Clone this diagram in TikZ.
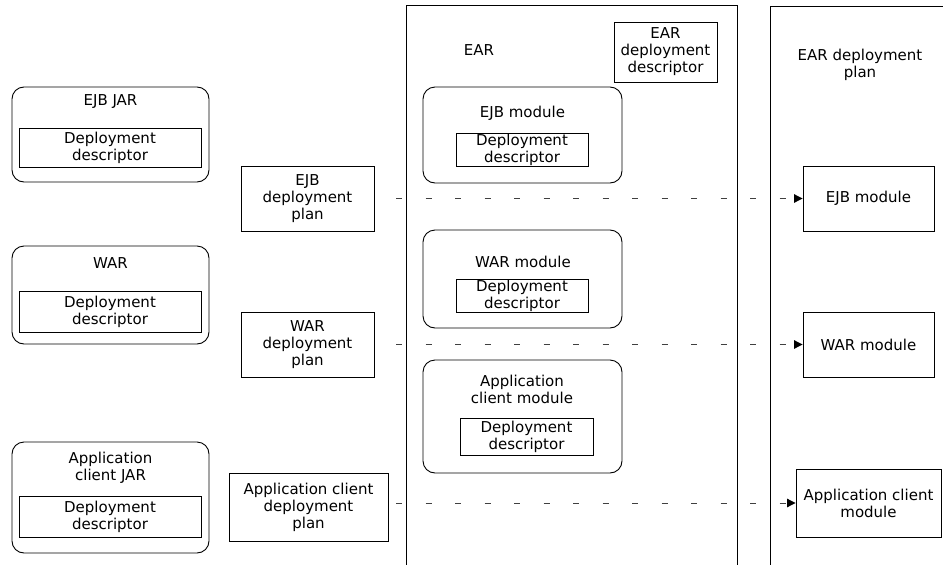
\documentclass[tikz,border=0pt]{standalone}
\usepackage{fontspec}
\setmainfont{DejaVu Sans}
\usetikzlibrary{arrows.meta}

\tikzset{
  box/.style={draw, line width=0.9pt, inner sep=0pt, align=center},
  jarbox/.style={draw, line width=0.9pt, rounded corners=12pt, inner sep=0pt},
  title/.style={inner sep=0pt, align=center},
  conn/.style={black!75, line width=1pt, dash pattern=on 6pt off 23.5pt,
    -{Triangle[length=8.5pt,width=8.5pt,color=black]}}
}

\begin{document}
\begin{tikzpicture}[x=1pt, y=-1pt, font=\fontsize{15}{17}\selectfont]
\useasboundingbox (0,0) rectangle (943,565);

% archives on the left
\node[jarbox, minimum width=197pt, minimum height=95pt] (ejbjar) at (110.5,134.5) {};
\node[title] (ejbjartitle) at (110.5,102) {EJB JAR};
\node[box, minimum width=182pt, minimum height=39pt] (ejbjardd) at (110,147.5) {Deployment\\descriptor};

\node[jarbox, minimum width=197pt, minimum height=98pt] (warjar) at (110.5,295) {};
\node[title] (warjartitle) at (110.5,263) {WAR};
\node[box, minimum width=182pt, minimum height=41pt] (warjardd) at (110,311.5) {Deployment\\descriptor};

\node[jarbox, minimum width=197pt, minimum height=111pt] (appjar) at (110.5,497.5) {};
\node[title] (appjartitle) at (110.5,467.5) {Application\\client JAR};
\node[box, minimum width=182pt, minimum height=41pt] (appjardd) at (110,516.5) {Deployment\\descriptor};

% deployment plans
\node[box, minimum width=133pt, minimum height=65pt] (ejbplan) at (307.5,198.5) {EJB\\deployment\\plan};
\node[box, minimum width=133pt, minimum height=65pt] (warplan) at (307.5,344.5) {WAR\\deployment\\plan};
\node[box, minimum width=159pt, minimum height=68pt] (appplan) at (308.5,507) {Application client\\deployment\\plan};

% EAR
\draw[line width=0.9pt] (406,567) -- (406,5) -- (737,5) -- (737,567);
\node[title] (eartitle) at (479,50) {EAR};
\node[box, minimum width=103pt, minimum height=60pt] (eardd) at (665.5,52) {EAR\\deployment\\descriptor};

\node[jarbox, minimum width=199pt, minimum height=96pt] (earejb) at (522.5,135) {};
\node[title] (earejbtitle) at (522.5,113) {EJB module};
\node[box, minimum width=132pt, minimum height=33pt] (earejbdd) at (522,149.5) {Deployment\\descriptor};

\node[jarbox, minimum width=199pt, minimum height=98pt] (earwar) at (522.5,279) {};
\node[title] (earwartitle) at (523,262) {WAR module};
\node[box, minimum width=132pt, minimum height=33pt] (earwardd) at (522,295.5) {Deployment\\descriptor};

\node[jarbox, minimum width=199pt, minimum height=113pt] (earapp) at (522.5,416.5) {};
\node[title] (earapptitle) at (522,389.5) {Application\\client module};
\node[box, minimum width=133pt, minimum height=37pt] (earappdd) at (526.5,436.5) {Deployment\\descriptor};

% EAR deployment plan
\draw[line width=0.9pt] (770,567) -- (770,6) -- (945,6);
\node[title] (eplantitle) at (860,65) {EAR deployment\\plan};
\node[box, minimum width=131pt, minimum height=65pt] (planejb) at (868.5,198.5) {EJB module};
\node[box, minimum width=131pt, minimum height=65pt] (planwar) at (868.5,344.5) {WAR module};
\node[box, minimum width=145pt, minimum height=68pt] (planapp) at (868.5,503) {Application client\\module};

% dotted links
\coordinate (dstart) at (396,0);
\draw[conn] (planejb.west -| dstart) -- (planejb.west);
\draw[conn] (planwar.west -| dstart) -- (planwar.west);
\draw[conn] (planapp.west -| dstart) -- (planapp.west);
\end{tikzpicture}
\end{document}
